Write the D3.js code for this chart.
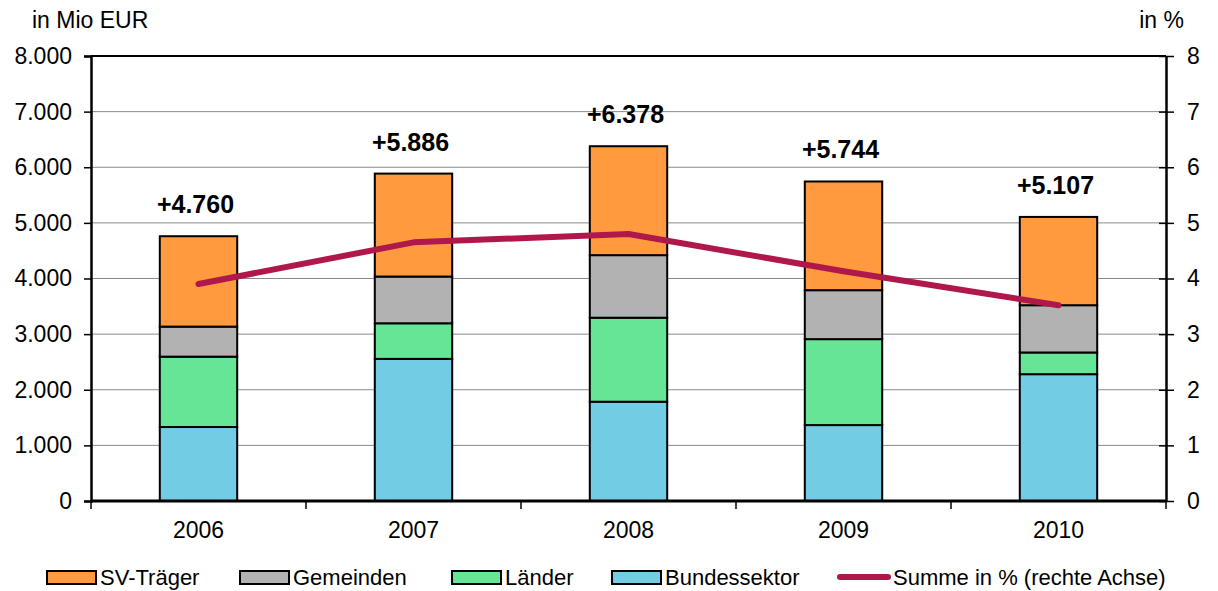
<!DOCTYPE html>
<html>
<head>
<meta charset="utf-8">
<script src="https://cdn.jsdelivr.net/npm/d3@7"></script>
<style>
  body { margin: 0; background: #fff; }
  svg { font-family: "Liberation Sans", Arial, sans-serif; }
</style>
</head>
<body>
<svg id="chart"></svg>
<script>
const years = ["2006", "2007", "2008", "2009", "2010"];
const bund = [1330, 2555, 1785, 1365, 2280];
const laender = [1265, 640, 1510, 1545, 390];
const gemeinden = [540, 840, 1125, 880, 850];
const svTraeger = [1625, 1851, 1958, 1954, 1587];
const totals = [4760, 5886, 6378, 5744, 5107];
const totalLabels = ["+4.760", "+5.886", "+6.378", "+5.744", "+5.107"];
const summePct = [3.9, 4.65, 4.8, 4.13, 3.52];
const leftTicks = [0, 1000, 2000, 3000, 4000, 5000, 6000, 7000, 8000];
const rightTicks = [0, 1, 2, 3, 4, 5, 6, 7, 8];

const seriesNames = ["Bundessektor", "Länder", "Gemeinden", "SV-Träger"];
const seriesColors = ["#72CDE4", "#66E596", "#B2B2B2", "#FF9A3E"];
const lineColor = "#B0184C";

const W = 1218, H = 591;
const margin = { top: 56, right: 52, bottom: 90, left: 91 };
const width = W - margin.left - margin.right;
const height = H - margin.top - margin.bottom;
const fs = 23;

const root = d3.select("#chart").attr("width", W).attr("height", H);
const svg = root.append("g").attr("transform", `translate(${margin.left},${margin.top})`);

const x = d3.scaleBand().domain(years).range([0, width]).paddingInner(0.64).paddingOuter(0.32);
const y = d3.scaleLinear().domain([0, 8000]).range([height, 0]);
const y2 = d3.scaleLinear().domain([0, 8]).range([height, 0]);

// gridlines
svg.append("g").selectAll("line")
    .data(leftTicks.slice(1))
    .join("line")
    .attr("x1", 0).attr("x2", width)
    .attr("y1", d => y(d)).attr("y2", d => y(d))
    .attr("stroke", d => d === 8000 ? "#000" : "#8a8a8a")
    .attr("stroke-width", d => d === 8000 ? 2 : 1);

// stacked bars
const rows = years.map((yr, i) => ({
    year: yr,
    "Bundessektor": bund[i],
    "Länder": laender[i],
    "Gemeinden": gemeinden[i],
    "SV-Träger": svTraeger[i]
}));
const stacked = d3.stack().keys(seriesNames)(rows);

svg.append("g").selectAll("g")
    .data(stacked)
    .join("g")
    .attr("fill", (d, i) => seriesColors[i])
    .selectAll("rect")
    .data(d => d)
    .join("rect")
    .attr("x", d => x(d.data.year))
    .attr("width", x.bandwidth())
    .attr("y", d => y(d[1]))
    .attr("height", d => y(d[0]) - y(d[1]))
    .attr("stroke", "#000")
    .attr("stroke-width", 2);

// total labels
svg.append("g").selectAll("text")
    .data(years)
    .join("text")
    .attr("x", d => x(d) + x.bandwidth() / 2 - 3)
    .attr("y", (d, i) => y(totals[i]) - 23)
    .attr("text-anchor", "middle")
    .attr("font-size", 25)
    .attr("font-weight", "bold")
    .text((d, i) => totalLabels[i]);

// line on right axis
const line = d3.line()
    .x((d, i) => x(years[i]) + x.bandwidth() / 2)
    .y(d => y2(d));

svg.append("path")
    .datum(summePct)
    .attr("d", line)
    .attr("fill", "none")
    .attr("stroke", lineColor)
    .attr("stroke-width", 6)
    .attr("stroke-linecap", "round")
    .attr("stroke-linejoin", "round");

// left axis
const axL = svg.append("g")
    .call(d3.axisLeft(y).tickValues(leftTicks).tickSize(7).tickPadding(12)
        .tickFormat(d => d3.format(",")(d).replace(/,/g, ".")));
axL.select(".domain").attr("stroke-width", 2.5);
axL.selectAll(".tick line").attr("stroke-width", 1.5);
axL.selectAll("text").attr("font-size", fs).attr("fill", "#000")
    .attr("font-family", "Liberation Sans, Arial, sans-serif");

// right axis
const axR = svg.append("g")
    .attr("transform", `translate(${width},0)`)
    .call(d3.axisRight(y2).tickValues(rightTicks).tickSizeInner(8).tickSizeOuter(0).tickPadding(13));
axR.select(".domain").attr("stroke-width", 2.5);
axR.selectAll(".tick line").attr("x1", -7).attr("stroke-width", 1.5);
axR.selectAll("text").attr("font-size", fs).attr("fill", "#000")
    .attr("font-family", "Liberation Sans, Arial, sans-serif");

// bottom axis with ticks between categories
const axB = svg.append("g").attr("transform", `translate(0,${height})`);
axB.append("line")
    .attr("x1", 0).attr("x2", width)
    .attr("stroke", "#000").attr("stroke-width", 3);
axB.selectAll(".sep")
    .data(d3.range(0, years.length + 1))
    .join("line")
    .attr("x1", d => d * width / years.length).attr("x2", d => d * width / years.length)
    .attr("y1", 0).attr("y2", 8)
    .attr("stroke", "#000").attr("stroke-width", 1.5);
axB.selectAll("text")
    .data(years)
    .join("text")
    .attr("x", d => x(d) + x.bandwidth() / 2)
    .attr("y", 37)
    .attr("text-anchor", "middle")
    .attr("font-size", fs)
    .text(d => d);

// axis titles
root.append("text").attr("x", 32).attr("y", 28).attr("font-size", fs).text("in Mio EUR");
root.append("text").attr("x", 1184).attr("y", 28).attr("font-size", fs)
    .attr("text-anchor", "end").text("in %");

// legend
const legendItems = [
    { name: "SV-Träger", color: seriesColors[3], x: 47, type: "rect" },
    { name: "Gemeinden", color: seriesColors[2], x: 240, type: "rect" },
    { name: "Länder", color: seriesColors[1], x: 452, type: "rect" },
    { name: "Bundessektor", color: seriesColors[0], x: 612, type: "rect" },
    { name: "Summe in % (rechte Achse)", color: lineColor, x: 837, type: "line" }
];
const lg = root.append("g").attr("transform", "translate(0,577)");
const li = lg.selectAll("g").data(legendItems).join("g")
    .attr("transform", d => `translate(${d.x},0)`);
li.filter(d => d.type === "rect").append("rect")
    .attr("x", 0).attr("y", -6).attr("width", 49).attr("height", 13)
    .attr("fill", d => d.color).attr("stroke", "#000").attr("stroke-width", 2);
li.filter(d => d.type === "line").append("line")
    .attr("x1", 3).attr("x2", 51).attr("y1", 0).attr("y2", 0)
    .attr("stroke", d => d.color).attr("stroke-width", 6).attr("stroke-linecap", "round");
li.append("text")
    .attr("x", d => d.type === "line" ? 56 : 53)
    .attr("y", 8)
    .attr("font-size", 22)
    .text(d => d.name);
</script>
</body>
</html>
